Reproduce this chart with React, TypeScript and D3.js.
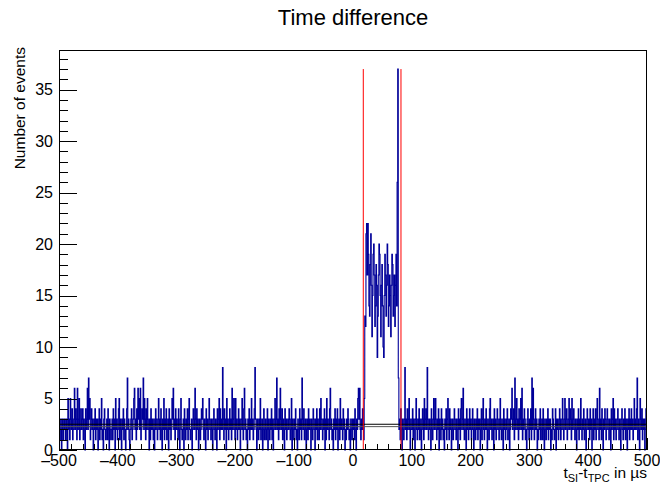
import React from "react";
import * as d3 from "d3";

// Histogram: 1000 bins of 1 µs from -500 to 500 µs
const xDomain: [number, number] = [-500, 500];
const binWidth = 1;
const yMax = 38.85;

const countsM500 = [
  3,1,2,3,0,2,3,1,2,3, 2,1,3,2,0,5,2,3,1,5, 3,2,4,1,2,3,6,2,4,3, 1,6,2,3,5,1,2,4,2,3,
  4,1,3,2,0,4,2,3,6,2, 7,3,5,1,2,4,3,2,0,3, 2,4,1,3,2,3,0,2,4,1, 3,2,5,1,2,0,3,4,2,1,
  2,3,1,4,2,0,3,2,1,2, 3,1,4,2,3,0,5,2,3,1,
];
const countsM400 = [
  2,4,5,1,3,2,0,3,2,4, 1,3,2,0,2,4,7,2,3,1, 0,2,3,4,1,2,3,5,6,2, 3,1,4,2,6,3,5,2,6,1,
  2,4,3,7,2,5,3,1,4,2, 5,3,2,0,3,1,4,2,3,2, 1,3,0,2,4,3,2,1,3,5, 2,3,1,4,2,0,3,2,5,1,
  3,2,4,1,2,3,0,4,2,3, 1,2,5,3,6,2,3,1,4,2,
];
const countsM300 = [
  3,2,1,4,2,0,3,5,2,1, 2,3,0,4,2,1,3,2,4,1, 3,5,2,1,2,3,0,2,4,3, 2,6,3,1,4,2,3,0,2,3,
  1,2,4,3,5,2,1,3,2,0, 4,2,3,1,2,5,3,2,1,3, 2,0,3,4,2,1,3,2,0,4, 2,3,5,1,4,2,3,2,8,3,
  1,4,2,3,0,5,2,3,1,2, 4,2,3,1,6,2,3,5,2,1,
];
const countsM200 = [
  5,2,3,1,2,4,2,3,0,2, 3,5,2,1,4,6,2,3,1,2, 0,3,2,4,1,3,2,5,2,3, 1,2,4,8,3,2,0,3,2,1,
  3,2,5,1,2,3,0,2,4,1, 2,3,1,2,4,0,3,2,1,3, 2,4,1,3,0,2,3,5,2,3, 7,2,3,1,4,2,6,3,2,4,
  1,3,2,0,4,2,3,1,2,3, 2,4,3,1,2,5,0,3,2,1,
];
const countsM100 = [
  3,2,4,1,2,0,3,2,1,4, 2,3,1,7,3,2,4,1,2,3, 0,2,3,1,4,2,3,2,0,3, 2,1,4,3,2,0,3,2,4,1,
  3,2,1,4,2,5,3,2,1,3, 2,4,0,3,1,5,2,3,2,1, 4,6,2,3,1,2,0,3,2,4, 1,3,2,4,0,2,3,1,5,2,
  3,2,1,4,2,3,0,2,1,3, 2,4,3,1,2,0,3,2,1,3,
];
const countsP000 = [
  2,3,1,4,2,0,3,2,5,6, 3,6,2,1,3,2,4,2,1,5, 13,12,
  21,22,17,22,19,14,13,18,21,16, 11,15,19,20,17,12,14,18,16,9, 13,17,20,19,15,11,16,18,14,10,
  9,15,19,17,13,16,20,18,12,14, 17,15,11,16,19,18,13,15,17,12, 16,19,14,
  26,37,7,
  2,3,1,4,2,0,3,2,1,3, 8,2, 3,1,4,2,3,5,2,0,3,2,
];
const countsP100 = [
  2,4,1,3,2,0,3,5,2,1, 3,2,4,1,2,3,0,2,4,3, 1,5,2,3,4,2,8,3,1,2, 3,2,0,4,2,1,3,5,2,3,
  5,2,1,3,2,4,0,3,2,1, 4,2,3,1,2,0,3,2,4,1, 3,5,2,1,4,2,3,0,2,3, 1,2,4,3,2,1,3,2,0,4,
  2,3,1,4,5,2,3,6,2,1, 3,2,0,4,2,3,1,2,4,2,
];
const countsP200 = [
  3,1,2,4,2,0,3,2,1,3, 2,4,1,3,2,3,0,2,4,1, 3,5,2,1,3,2,4,2,0,3, 2,1,4,5,2,3,1,2,3,0,
  4,2,3,1,2,4,3,2,1,3, 5,2,1,3,2,0,4,2,3,1, 2,3,4,1,2,3,0,2,4,3, 6,2,3,4,1,7,2,3,5,2,
  3,1,4,2,3,5,2,6,1,3, 2,4,3,1,2,0,3,4,2,1,
];
const countsP300 = [
  3,2,4,1,7,2,6,3,1,2, 4,2,3,0,2,1,3,2,4,1, 2,3,1,4,2,0,3,2,1,3, 2,4,1,3,2,3,0,2,1,4,
  3,2,1,2,4,0,3,2,3,1, 2,4,3,1,2,3,5,2,1,3, 5,2,3,4,1,2,3,5,2,4, 3,1,5,2,3,4,2,1,3,2,
  0,3,2,4,1,3,2,5,2,1, 3,2,4,1,2,3,0,2,4,3,
];
const countsP400 = [
  2,3,1,4,2,3,0,2,4,1, 3,2,4,1,2,5,3,2,1,6, 2,3,1,4,2,0,3,2,4,3, 1,2,4,3,2,1,3,2,0,4,
  2,3,5,1,4,2,3,1,2,3, 4,2,1,3,2,0,3,4,2,1, 3,2,4,1,3,2,0,3,2,4, 1,3,2,4,2,3,1,2,5,2,
  3,2,4,7,1,3,2,0,5,3, 2,4,1,3,2,3,0,2,4,3,
];

const redLinePositions = [17.5, 81.6];
const redLineHeight = 37;
const fitLevels = [2.5, 2.27];
const fitColors = ["#000000", "#555555"];

const yMajorTicks = [0, 5, 10, 15, 20, 25, 30, 35];
const xMajorTicks = [-500, -400, -300, -200, -100, 0, 100, 200, 300, 400, 500];

const FONT = "'Liberation Sans', Arial, Helvetica, sans-serif";

export default function App() {
  const counts = [
    ...countsM500, ...countsM400, ...countsM300, ...countsM200, ...countsM100,
    ...countsP000, ...countsP100, ...countsP200, ...countsP300, ...countsP400,
  ];
  const left = 59, right = 647, top = 50, bottom = 450;
  const x = d3.scaleLinear().domain(xDomain).range([left, right]);
  const y = d3.scaleLinear().domain([0, yMax]).range([bottom, top]);

  const pts: [number, number][] = counts.map((c, i) => [xDomain[0] + i * binWidth, c]);
  pts.push([xDomain[1], counts[counts.length - 1]]);
  const line = d3
    .line<[number, number]>()
    .x((d) => x(d[0]))
    .y((d) => y(d[1]))
    .curve(d3.curveStepAfter);
  const histPath = line(pts) || "";

  const yMinor = d3.range(0, 39, 1);
  const xMinor = d3.range(-500, 501, 20);

  const fmt = (v: number) => (v < 0 ? "\u2013" + Math.abs(v) : String(v));

  return (
    <svg
      width={660}
      height={485}
      style={{ position: "absolute", left: 0, top: 0, background: "#fff" }}
      fontFamily={FONT}
    >
      <rect x={0} y={0} width={660} height={485} fill="#fff" />
      {/* histogram */}
      <path d={histPath} fill="none" stroke="#000099" strokeWidth={1.1} />
      {/* fit lines */}
      {fitLevels.map((lv, i) => (
        <line key={"f" + i} x1={left} x2={right} y1={y(lv)} y2={y(lv)} stroke={fitColors[i]} strokeWidth={1} />
      ))}
      {/* red markers */}
      {redLinePositions.map((p, i) => (
        <line key={"r" + i} x1={x(p)} x2={x(p)} y1={y(0)} y2={y(redLineHeight)} stroke="#ff0000" strokeWidth={1} />
      ))}
      {/* frame */}
      <g shapeRendering="crispEdges">
        <line x1={left} x2={right} y1={top + 0.5} y2={top + 0.5} stroke="#000" />
        <line x1={right - 0.5} x2={right - 0.5} y1={top} y2={bottom} stroke="#000" />
        <line x1={left + 0.5} x2={left + 0.5} y1={top} y2={bottom} stroke="#000" />
        <line x1={left} x2={right} y1={bottom - 0.5} y2={bottom - 0.5} stroke="#000" />
        {yMinor.map((v) => (
          <line key={"ym" + v} x1={left} x2={left + (v % 5 === 0 ? 17.6 : 8.8)} y1={Math.round(y(v)) + 0.5} y2={Math.round(y(v)) + 0.5} stroke="#000" />
        ))}
        {xMinor.map((v) => (
          <line key={"xm" + v} x1={Math.round(x(v)) + 0.5} x2={Math.round(x(v)) + 0.5} y1={bottom} y2={bottom - (v % 100 === 0 ? 12 : 6)} stroke="#000" />
        ))}
      </g>
      {yMajorTicks.map((v) => (
        <text key={"yl" + v} x={53} y={y(v)} dy="0.35em" textAnchor="end" fontSize={16} fill="#000">
          {v}
        </text>
      ))}
      {xMajorTicks.map((v) => (
        <text key={"xl" + v} x={x(v)} y={466} textAnchor="middle" fontSize={16} fill="#000">
          {fmt(v)}
        </text>
      ))}
      <text x={353} y={25} textAnchor="middle" fontSize={22} fill="#000">
        Time difference
      </text>
      <text transform="translate(25,47) rotate(-90)" textAnchor="end" fontSize={15.5} fill="#000">
        Number of events
      </text>
      <text x={647} y={478} textAnchor="end" fontSize={15.5} fill="#000">
        t<tspan fontSize={11} dy={4}>SI</tspan>
        <tspan dy={-4}>-t</tspan>
        <tspan fontSize={11} dy={4}>TPC</tspan>
        <tspan dy={-4}> in µs</tspan>
      </text>
    </svg>
  );
}
